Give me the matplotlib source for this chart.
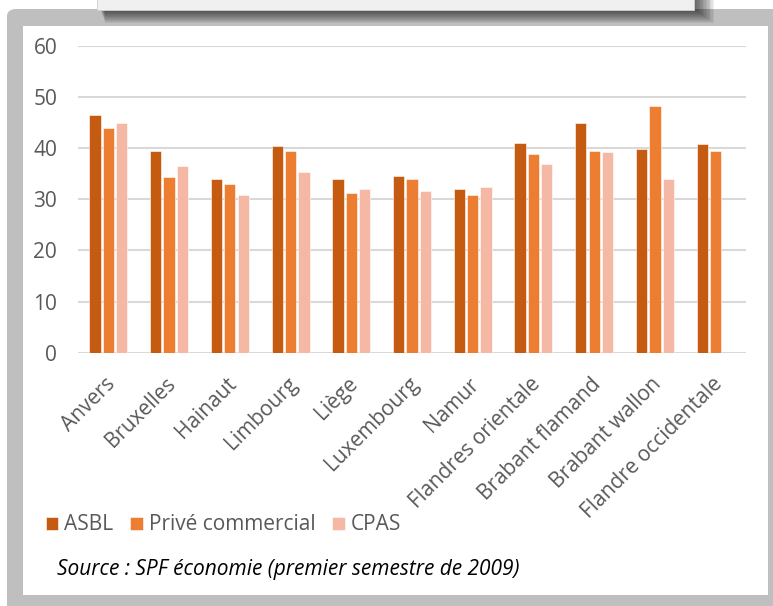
import matplotlib
matplotlib.use("Agg")
import matplotlib.pyplot as plt
import matplotlib.transforms as mtransforms
from matplotlib.patches import Rectangle, FancyBboxPatch
import numpy as np

plt.rcParams['font.family'] = ['Open Sans', 'DejaVu Sans']

provinces = ["Anvers", "Bruxelles", "Hainaut", "Limbourg", "Liège", "Luxembourg",
             "Namur", "Flandres orientale", "Brabant flamand", "Brabant wallon",
             "Flandre occidentale"]
asbl = [46.4, 39.4, 33.9, 40.4, 33.9, 34.5, 32.0, 40.9, 44.9, 39.9, 40.8]
prive = [43.9, 34.4, 32.9, 39.4, 31.3, 33.9, 30.9, 38.9, 39.4, 48.3, 39.4]
cpas = [44.9, 36.4, 30.9, 35.4, 31.9, 31.6, 32.4, 36.9, 39.3, 33.9, 0.0]
series_names = ["ASBL", "Privé commercial", "CPAS"]
yticks = [0, 10, 20, 30, 40, 50, 60]
source_text = "Source : SPF économie (premier semestre de 2009)"

colors = ["#C55A11", "#ED7D31", "#F4B8A4"]
W, H = 773, 606
fig = plt.figure(figsize=(W / 100, H / 100), dpi=100)


def px(x0, y0, w, h):
    """Pixel box (top-left origin) to figure fraction."""
    return (x0 / W, 1 - (y0 + h) / H, w / W, h / H)


def add_rect(x0, y0, w, h, **kw):
    b = px(x0, y0, w, h)
    r = Rectangle(b[:2], b[2], b[3], transform=fig.transFigure, **kw)
    fig.patches.append(r)
    return r


# outer grey frame with rounded corner, white panel on top
fx, fy, fw, fh = px(7, 9, 800, 640)
fig.patches.append(FancyBboxPatch((fx, fy), fw, fh,
                                  boxstyle="round,pad=0,rounding_size=0.012",
                                  transform=fig.transFigure, facecolor="#BFBFBF",
                                  edgecolor="none", zorder=0))
add_rect(23, 26, 745, 569, facecolor="white", edgecolor="none", zorder=1)

# shadowed header box at the top
for i in range(14):
    add_rect(100 + i * 0.4, -4, 596 + i * 1.0, 14 + i * 1.0,
             facecolor="black", alpha=0.06, edgecolor="none", zorder=2)
add_rect(97, -4, 597, 14, facecolor="#F0F0F0", edgecolor="#D0D0D0",
         linewidth=0.6, zorder=3)

ax = fig.add_axes(px(78, 45.7, 668, 307))
ax.set_zorder(5)
ax.patch.set_alpha(0)

x = np.arange(len(provinces))
bw = 0.185
step = 0.22
for k, (vals, c, name) in enumerate(zip([asbl, prive, cpas], colors, series_names)):
    ax.bar(x + (k - 1) * step, vals, width=bw, color=c, label=name,
           edgecolor="#FFFFFF", linewidth=0.4, zorder=3)

ax.set_xlim(-0.5, len(provinces) - 0.5)
ax.set_ylim(0, 60)
ax.set_yticks(yticks)
ax.set_yticklabels([str(t) for t in yticks])
ax.yaxis.grid(True, color="#D9D9D9", linewidth=1.5, zorder=0)
ax.set_axisbelow(True)
for s in ax.spines.values():
    s.set_visible(False)
ax.tick_params(axis="y", length=0, pad=15, labelsize=15, labelcolor="#595959")
ax.tick_params(axis="x", length=0, pad=15, labelsize=15, labelcolor="#595959")
ax.set_xticks(x)
ax.set_xticklabels(provinces, rotation=45, ha="right", va="top",
                   rotation_mode="anchor")
offset = mtransforms.ScaledTranslation(-4 / 100, 0, fig.dpi_scale_trans)
for lbl in ax.get_xticklabels():
    lbl.set_transform(lbl.get_transform() + offset)

handles, labels = ax.get_legend_handles_labels()
fig.legend(handles, labels, loc="center left",
           bbox_to_anchor=(27 / W, 1 - 525 / H), ncol=3, frameon=False,
           fontsize=15, handlelength=0.6, handleheight=0.6,
           handletextpad=0.3, columnspacing=0.8, labelcolor="#595959")

fig.text(57 / W, 1 - 570 / H, source_text, fontsize=15, style="italic",
         color="black", va="center", ha="left")

fig.savefig("out.png", dpi=100)
